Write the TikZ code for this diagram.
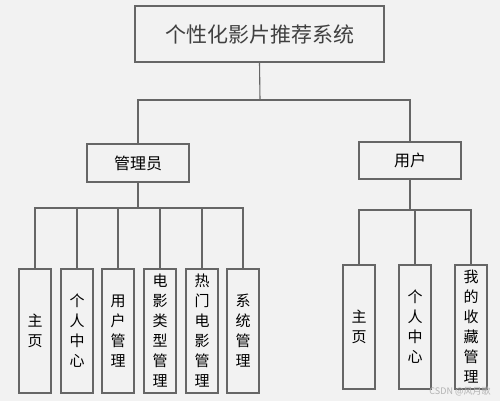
\documentclass[tikz,border=0pt]{standalone}
\usepackage{fontspec}
\setmainfont{Noto Sans CJK SC}
\begin{document}
\begin{tikzpicture}[x=1pt,y=-1pt,
  box/.style={draw=linec,line width=1.1pt,fill=bgc,inner sep=0pt,align=center},
  leaf/.style={box,minimum width=32pt,minimum height=124pt,font=\fontsize{15}{20}\selectfont},
  conn/.style={draw=linec,line width=1.1pt}]
\definecolor{bgc}{HTML}{F2F2F2}
\definecolor{linec}{HTML}{666666}
\fill[bgc] (0,0) rectangle (500,401);
\useasboundingbox (0,0) rectangle (500,401);
\node[box,minimum width=249pt,minimum height=56pt,text=black!75,font=\fontsize{21}{24}\selectfont] (title) at (259.5,34) {个性化影片推荐系统};
\node[box,minimum width=102pt,minimum height=38pt,font=\fontsize{16}{18}\selectfont] (admin) at (138,163) {管理员};
\node[box,minimum width=102pt,minimum height=37pt,font=\fontsize{16}{18}\selectfont] (user) at (410,160.5) {用户};
\node[leaf] (a1) at (35,331) {主\\页};
\node[leaf] (a2) at (77,331) {个\\人\\中\\心};
\node[leaf] (a3) at (118,331) {用\\户\\管\\理};
\node[leaf] (a4) at (160,331) {电\\影\\类\\型\\管\\理};
\node[leaf] (a5) at (202,331) {热\\门\\电\\影\\管\\理};
\node[leaf] (a6) at (243,331) {系\\统\\管\\理};
\node[leaf] (u1) at (359,327) {主\\页};
\node[leaf] (u2) at (415,327) {个\\人\\中\\心};
\node[leaf] (u3) at (471,327) {我\\的\\收\\藏\\管\\理};
\coordinate (j1) at (260,100);
\coordinate (j2) at (138,208);
\coordinate (j3) at (410,210);
\draw[conn] (title.south) -- (j1);
\draw[conn] (admin.north) |- (j1) -| (user.north);
\draw[conn] (admin.south) -- (j2);
\foreach \n in {a1,a2,a3,a4,a5,a6} \draw[conn] (j2) -| (\n.north);
\draw[conn] (user.south) -- (j3);
\foreach \n in {u1,u2,u3} \draw[conn] (j3) -| (\n.north);
\node[text=black!30,font=\fontsize{9}{10}\selectfont,inner sep=0pt] (wm) at (460,391) {CSDN @风月歌};
\end{tikzpicture}
\end{document}
